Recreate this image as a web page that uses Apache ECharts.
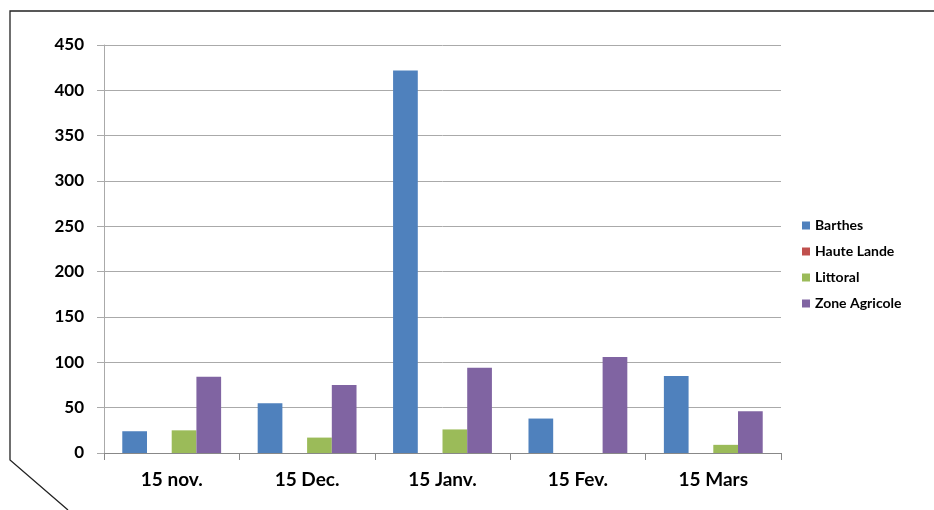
<!DOCTYPE html>
<html><head><meta charset="utf-8">
<script src="https://cdn.jsdelivr.net/npm/echarts@6/dist/echarts.min.js"></script>
<style>html,body{margin:0;padding:0;background:#fff}#c{width:934px;height:510px}</style>
</head><body><div id="c"></div>
<script>
var categories = ['15 nov.', '15 Dec.', '15 Janv.', '15 Fev.', '15 Mars'];
var seriesNames = ['Barthes', 'Haute Lande', 'Littoral', 'Zone Agricole'];
var barthes = [24, 55, 422, 38, 85];
var hauteLande = [0, 0, 0, 0, 0];
var littoral = [25, 17, 26, 0, 9];
var zoneAgricole = [84, 75, 94, 106, 46];
var colors = ['#4F81BD', '#C0504D', '#9BBB59', '#8064A2'];
var allValues = [barthes, hauteLande, littoral, zoneAgricole];

var font = 'Lato, "Open Sans", sans-serif';
var chart = echarts.init(document.getElementById('c'), null, {renderer: 'canvas'});
chart.setOption({
  animation: false,
  color: colors,
  textStyle: {fontFamily: font},
  grid: {left: 104, top: 45, right: 153, bottom: 57, containLabel: false},
  legend: {
    orient: 'vertical', left: 797, top: 212, itemWidth: 8, itemHeight: 8, itemGap: 9,
    icon: 'rect',
    textStyle: {fontFamily: font, fontWeight: 'bold', fontSize: 14, color: '#000', lineHeight: 17},
    data: seriesNames
  },
  xAxis: {
    type: 'category', data: categories,
    axisLine: {lineStyle: {color: '#888', width: 1}},
    axisTick: {show: true, length: 7, lineStyle: {color: '#888'}},
    axisLabel: {fontFamily: font, fontWeight: 'bold', fontSize: 19, color: '#000', margin: 17}
  },
  yAxis: {
    type: 'value', min: 0, max: 450, interval: 50,
    axisLine: {show: true, lineStyle: {color: '#aaa', width: 1}},
    axisTick: {show: true, length: 7, lineStyle: {color: '#aaa'}},
    splitLine: {lineStyle: {color: '#aaa', width: 1}},
    axisLabel: {fontFamily: font, fontWeight: 'bold', fontSize: 17, color: '#000', margin: 20}
  },
  graphic: [{
    type: 'polyline', silent: true,
    shape: {points: [[934, 11], [10, 11], [10, 460], [68, 510]]},
    style: {stroke: '#222', lineWidth: 1.3, fill: null}
  }],
  series: seriesNames.map(function (n, i) {
    return {
      name: n, type: 'bar', data: allValues[i],
      barGap: '0%', barCategoryGap: '27%',
      itemStyle: {color: colors[i]}
    };
  })
});
</script>
</body></html>
